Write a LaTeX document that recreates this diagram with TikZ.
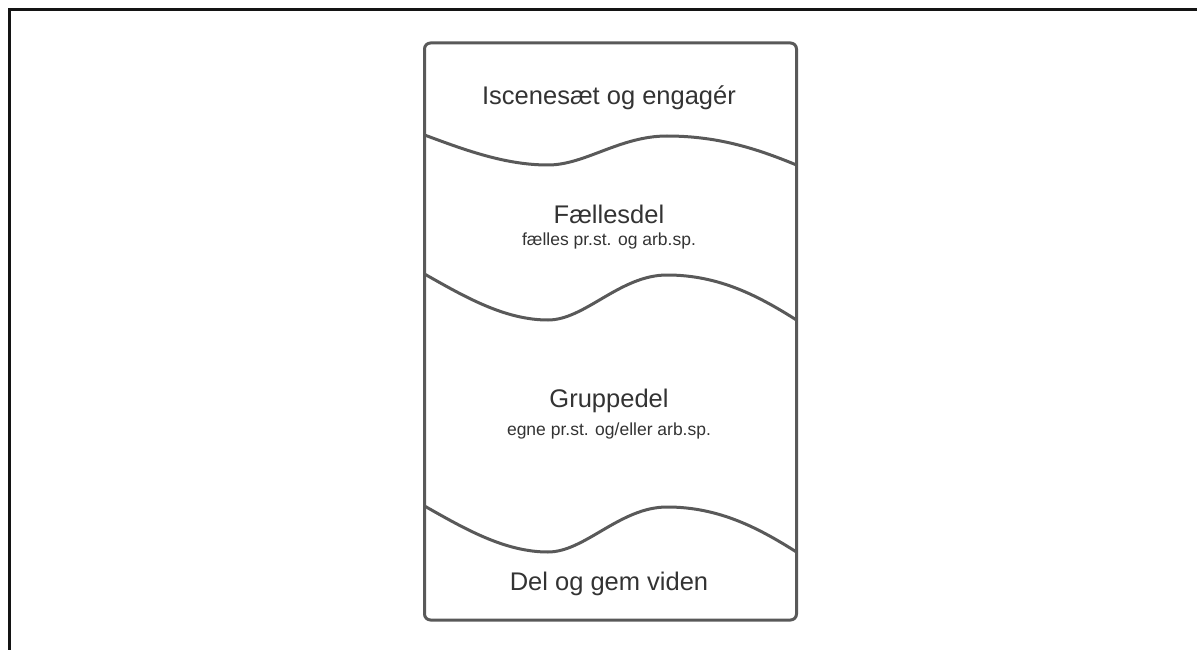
\documentclass[tikz,border=0pt]{standalone}
\usepackage{fontspec}
\setmainfont{Liberation Sans}
\begin{document}
\begin{tikzpicture}[x=1pt,y=-1pt,
  outline/.style={draw=black!65, line width=3pt, line join=round},
  frameline/.style={draw=black!92, line width=3pt},
  title/.style={text=black!80, font=\fontsize{25.5}{30}\selectfont, inner sep=0pt},
  subtitle/.style={text=black!80, font=\fontsize{17.5}{21}\selectfont, inner sep=0pt}]
\useasboundingbox (0,0) rectangle (1197,650);
% outer frame (top and left edges)
\draw[frameline] (9,650) -- (9,10) -- (1197,10);
% stacked sections
\draw[outline, rounded corners=6pt] (424.5,43) rectangle (796.5,620);
% wavy dividers: #1 = y of left end and crest, #2 = y of trough and right end
\newcommand\wavecurve[2]{%
  \pgfmathsetmacro\wa{#2-#1}%
  \draw[outline] (424.5,#1) .. controls (465,#1+0.5*\wa) and (505,#2) .. (548,#2)
    .. controls (585,#2) and (620,#1+1) .. (667,#1+1)
    .. controls (720,#1+1) and (760,#2-0.5*\wa) .. (796.5,#2);}
\wavecurve{135}{165}
\wavecurve{274}{320}
\wavecurve{506}{552}
% labels
\node[title] (intro) at (609,98) {Iscenesæt og engagér};
\node[title] (common) at (609,214) {Fællesdel};
\node[subtitle] (commonsub) at (609,241) {fælles pr.st. og arb.sp.};
\node[title] (group) at (609,401) {Gruppedel};
\node[subtitle] (groupsub) at (609,431) {egne pr.st. og/eller arb.sp.};
\node[title] (share) at (609,584) {Del og gem viden};
\end{tikzpicture}
\end{document}
